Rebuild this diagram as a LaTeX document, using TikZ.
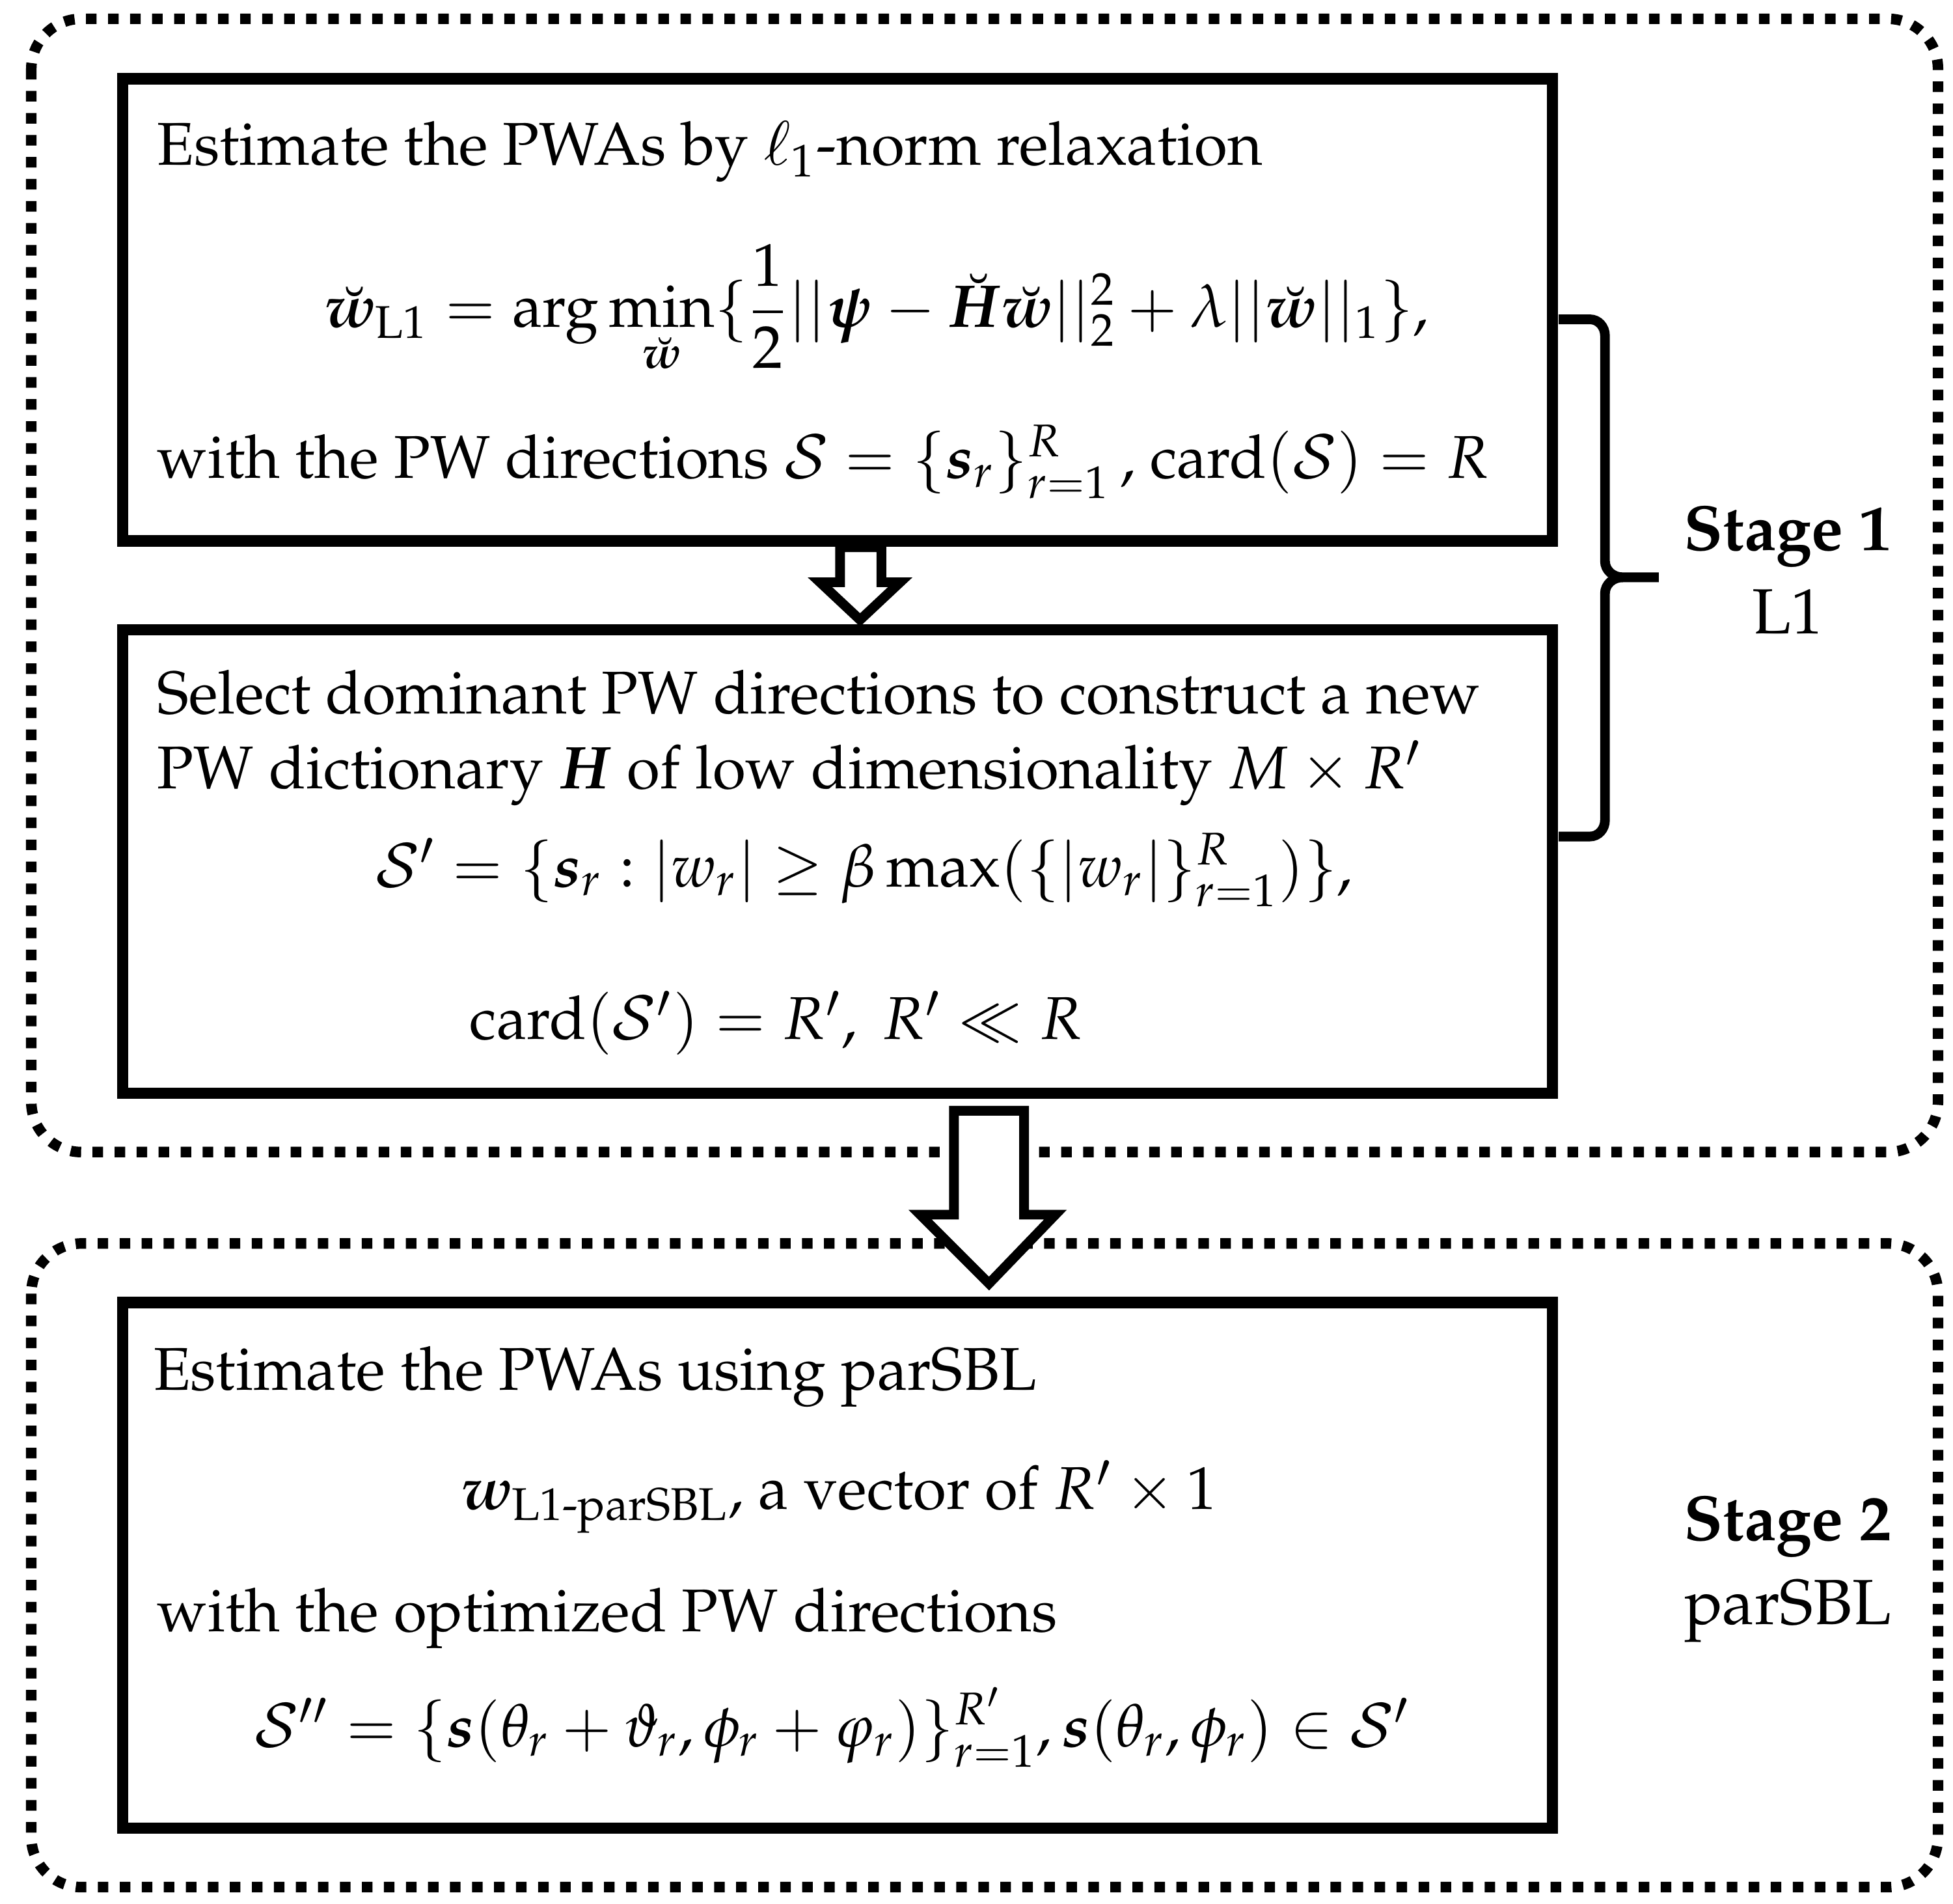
\documentclass[tikz,border=0pt]{standalone}
\usepackage{amsmath,amssymb}
\usepackage[T1]{fontenc}
\usepackage{mathpazo}
\usepackage{bm}
\begin{document}
\begin{tikzpicture}[x=0.01cm,y=-0.01cm,
  outer/.style={line width=2.4pt,dash pattern=on 2.4pt off 2.6pt,rounded corners=0.4cm},
  box/.style={line width=2.6pt},
  harrow/.style={line width=2.2pt,fill=white},
  txt/.style={font=\fontsize{13.7}{16}\selectfont,inner sep=0},
  stage/.style={font=\fontsize{14.5}{17}\selectfont,inner sep=0,align=center}]
\useasboundingbox (0,0) rectangle (1560,1520);
\draw[outer] (25,15) rectangle (1548,920);
\draw[outer] (25,993) rectangle (1548,1507);
\draw[box] (98,63) rectangle (1240,432);
\draw[box] (98,503) rectangle (1240,873);
\draw[box] (98,1040) rectangle (1240,1460);
% small arrow
\draw[harrow] (671,437) -- (704,437) -- (704,465) -- (719,465) -- (687,495) -- (655,465) -- (671,465) -- cycle;
% big arrow
\draw[harrow] (762,887) -- (818,887) -- (818,970) -- (843,970) -- (790,1025) -- (735,970) -- (762,970) -- cycle;
% brace
\draw[line width=2.2pt] (1245,255) -- (1270,255) to[out=0,in=90] (1282,268) -- (1282,448) to[out=-90,in=180] (1296,461) -- (1325,461);
\draw[line width=2.2pt] (1245,668) -- (1270,668) to[out=0,in=-90] (1282,655) -- (1282,474) to[out=90,in=180] (1296,461);
% Box A
\node[txt,anchor=base west] (a1) at (125,132) {Estimate the PWAs by $\ell_1$-norm relaxation};
\node[txt,anchor=center] (a2) at (700,247) {$\breve{\bm w}_{\mathrm{L1}}=\arg\min\limits_{\breve{\bm w}}\{\dfrac{1}{2}||\bm\psi-\breve{\bm H}\breve{\bm w}||_2^2+\lambda||\breve{\bm w}||_1\},$};
\node[txt,anchor=base west] (a3) at (125,382) {with the PW directions $\mathcal{S}=\{\bm s_r\}_{r=1}^{R}$\,, $\mathrm{card}(\mathcal{S})=R$};
% Box B
\node[txt,anchor=base west] (b1) at (125,570) {Select dominant PW directions to construct a new};
\node[txt,anchor=base west] (b2) at (125,630) {PW dictionary $\bm H$ of low dimensionality $M\times R'$};
\node[txt,anchor=base] (b3) at (690,708) {$\mathcal{S}'=\{\bm s_r:|w_r|\geq\beta\max(\{|w_r|\}_{r=1}^{R})\},$};
\node[txt,anchor=base] (b4) at (620,830) {$\mathrm{card}(\mathcal{S}')=R',\ R'\ll R$};
% Box C
\node[txt,anchor=base west] (c1) at (122,1110) {Estimate the PWAs using parSBL};
\node[txt,anchor=base] (c2) at (670,1205) {$\bm w_{\text{L1-parSBL}}$, a vector of $R'\times1$};
\node[txt,anchor=base west] (c3) at (125,1303) {with the optimized PW directions};
\node[txt,anchor=base] (c4) at (665,1395) {$\mathcal{S}''=\{\bm s(\theta_r+\vartheta_r,\phi_r+\varphi_r)\}_{r=1}^{R'},\bm s(\theta_r,\phi_r)\in\mathcal{S}'$};
% Stages
\node[stage] (s1) at (1428,455) {\textbf{Stage 1}\\[2pt]L1};
\node[stage] (s2) at (1428,1253) {\textbf{Stage 2}\\[2pt]parSBL};
\end{tikzpicture}
\end{document}
